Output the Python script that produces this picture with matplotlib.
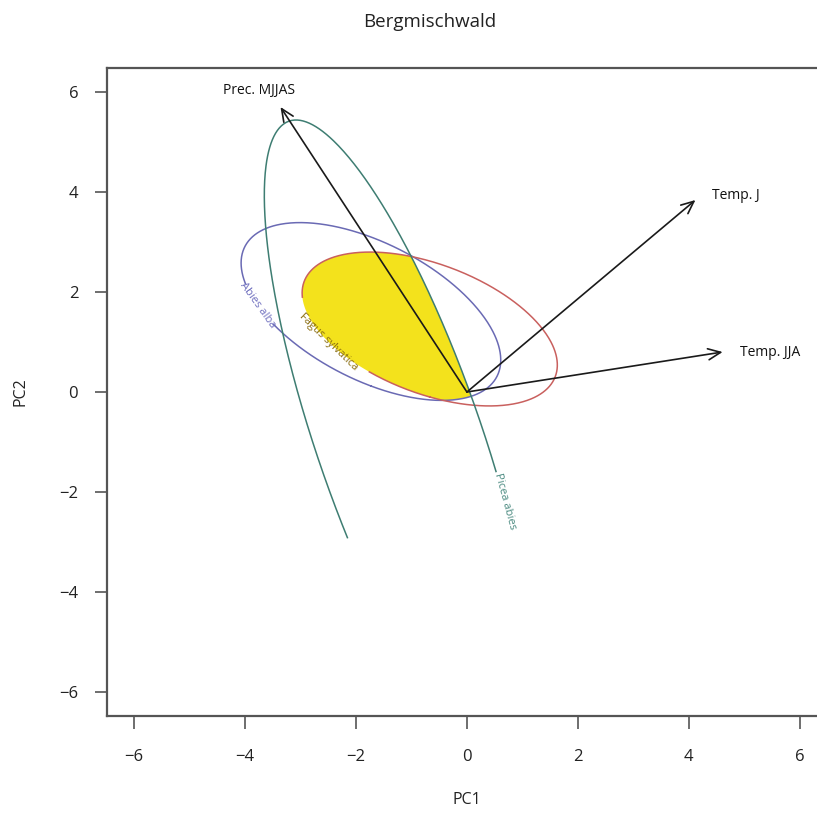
import numpy as np
import matplotlib
matplotlib.use('Agg')
import matplotlib.pyplot as plt

plt.rcParams['font.family'] = ['Open Sans', 'DejaVu Sans']

# arrows (climate variables) from origin
var_names = ['Prec. MJJAS', 'Temp. J', 'Temp. JJA']
var_x = [-3.36, 4.12, 4.61]
var_y = [5.70, 3.84, 0.80]
lab_x = [-3.74, 4.85, 5.46]
lab_y = [6.04, 3.94, 0.80]

# species contours: x = cx + a1 cos t + a2 sin t, y = cy + b1 cos t + b2 sin t
species = ['Abies alba', 'Fagus sylvatica', 'Picea abies']
cx = [-1.73, -0.67, -1.21]
cy = [1.61, 1.26, -1.00]
a1 = [2.34, 2.30, 1.57]
a2 = [0.0, 0.0, -1.87]
b1 = [-0.97, -0.72, 0.0]
b2 = [1.49, 1.36, 6.44]
cut_left = [None, None, -2.96]
cut_right = [None, None, -2.62]
label_at = [(-3.83, 1.68), (-2.33, 1.18), (0.67, -2.22)]
label_len = [50, 100, 64]
line_cols = ['#6a6ab4', '#c9605e', '#3e7d72']
text_cols = ['#6e6ebe', '#8a6d10', '#4a8a80']
fill_col = '#f3e21c'

xticks = [-6, -4, -2, 0, 2, 4, 6]
yticks = [-6, -4, -2, 0, 2, 4, 6]


def ellipse(i, n=600):
    t = np.linspace(-np.pi / 2, 3 * np.pi / 2, n)
    x = cx[i] + a1[i] * np.cos(t) + a2[i] * np.sin(t)
    y = cy[i] + b1[i] * np.cos(t) + b2[i] * np.sin(t)
    return t, x, y


def clip(subject, clipper):
    # Sutherland-Hodgman, clipper convex and counterclockwise
    out = list(subject)
    for i in range(len(clipper)):
        a, b = clipper[i], clipper[(i + 1) % len(clipper)]
        inp, out = out, []
        if not inp:
            break

        def side(p):
            return (b[0] - a[0]) * (p[1] - a[1]) - (b[1] - a[1]) * (p[0] - a[0])

        s = inp[-1]
        for e in inp:
            ds, de = side(s), side(e)
            if de >= 0:
                if ds < 0:
                    f = ds / (ds - de)
                    out.append((s[0] + f * (e[0] - s[0]), s[1] + f * (e[1] - s[1])))
                out.append(e)
            elif ds >= 0:
                f = ds / (ds - de)
                out.append((s[0] + f * (e[0] - s[0]), s[1] + f * (e[1] - s[1])))
            s = e
    return out


fig = plt.figure(figsize=(8.17, 8.15), dpi=100)
ax = fig.add_axes([107.4 / 817, 99 / 815, 719 / 817, 648 / 815])
ax.set_xlim(-6.48, 6.48)
ax.set_ylim(-6.48, 6.48)

# yellow: area where all three species overlap
polys = [list(zip(*ellipse(i, 400)[1:]))[:-1] for i in range(3)]
yellow = clip(clip(polys[1], polys[0]), polys[2])
ax.fill([p[0] for p in yellow], [p[1] for p in yellow], color=fill_col, lw=0, zorder=1)

for i in range(3):
    t, x, y = ellipse(i)
    y = y.copy()
    if cut_left[i] is not None:
        y[(np.cos(t) < 0) & (y < cut_left[i])] = np.nan
        y[(np.cos(t) >= 0) & (y < cut_right[i])] = np.nan
    pts = ax.transData.transform(np.column_stack([x, np.nan_to_num(y, nan=-99)]))
    lp = ax.transData.transform(label_at[i])
    _, xf, yf = ellipse(i)
    full = ax.transData.transform(np.column_stack([xf, yf]))
    d = np.hypot(full[:, 0] - lp[0], full[:, 1] - lp[1])
    k = np.argmin(d)
    y[d < label_len[i] / 2] = np.nan
    ax.plot(x, y, color=line_cols[i], lw=1.1, zorder=2)
    # rotate label along the curve
    dx = full[min(k + 3, len(full) - 1), 0] - full[max(k - 3, 0), 0]
    dy = full[min(k + 3, len(full) - 1), 1] - full[max(k - 3, 0), 1]
    ang = np.degrees(np.arctan2(dy, dx))
    if ang > 90:
        ang -= 180
    elif ang < -90:
        ang += 180
    ax.text(xf[k], yf[k], species[i], rotation=ang, rotation_mode='anchor',
            ha='center', va='center', fontsize=8, color=text_cols[i], zorder=3)

for name, x, y, tx, ty in zip(var_names, var_x, var_y, lab_x, lab_y):
    ax.annotate('', xy=(x, y), xytext=(0, 0),
                arrowprops=dict(arrowstyle='->,head_length=0.9,head_width=0.4',
                                color='#1a1a1a', lw=1.2, shrinkA=0, shrinkB=0), zorder=4)
    ax.text(tx, ty, name, ha='center', va='center', fontsize=10, color='#111111')

ax.set_xticks(xticks)
ax.set_yticks(yticks)
ax.set_xticklabels(['\u2212' + str(-v) if v < 0 else str(v) for v in xticks])
ax.set_yticklabels(['\u2212' + str(-v) if v < 0 else str(v) for v in yticks])
ax.tick_params(direction='out', length=9, width=1.2, color='#555555', labelsize=12,
               labelcolor='#222222', pad=12)
ax.tick_params(axis='x', pad=15)
ax.spines['right'].set_visible(False)
for s in ax.spines.values():
    s.set_color('#555555')
    s.set_linewidth(1.6)

fig.text(430 / 817, 1 - 22 / 815, 'Bergmischwald', ha='center', va='center', fontsize=13.5,
         color='#222222')
fig.text(467 / 817, 1 - 800 / 815, 'PC1', ha='center', va='center', fontsize=11.5, color='#222222')
fig.text(20 / 817, 1 - 392 / 815, 'PC2', ha='center', va='center', fontsize=11.5,
         rotation=90, color='#222222')

fig.savefig('out.png', dpi=100)
